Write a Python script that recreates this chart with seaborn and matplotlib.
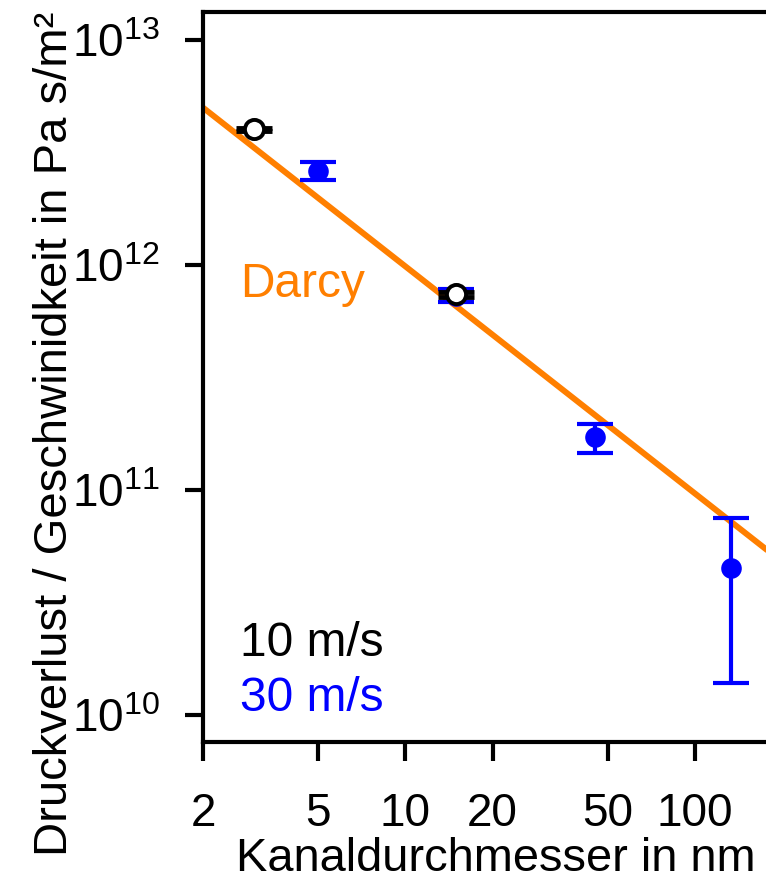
import matplotlib
matplotlib.use("Agg")
import matplotlib.pyplot as plt
import seaborn as sns
import numpy as np
import pandas as pd
from matplotlib.ticker import FixedLocator, FixedFormatter, LogFormatterMathtext, NullLocator

# ---- data ----
d10 = [3.0, 15.0]
v10 = [4.0e12, 7.43e11]
lo10 = [3.93e12, 7.2e11]
hi10 = [4.07e12, 7.6e11]

d30 = [5.0, 15.0, 45.0, 133.0]
v30 = [2.62e12, 7.3e11, 1.72e11, 4.5e10]
lo30 = [2.39e12, 6.85e11, 1.46e11, 1.39e10]
hi30 = [2.87e12, 7.82e11, 1.97e11, 7.5e10]

darcy_d = [2.0, 200.0]
darcy_v = [5.0e12, 4.8e10]

xticks = [2, 5, 10, 20, 50, 100]
xticklabels = ["2", "5", "10", "20", "50", "100"]
yticks = [1e10, 1e11, 1e12, 1e13]

sns.set_theme(style="ticks")
plt.rcParams["font.family"] = ["Liberation Sans", "DejaVu Sans"]
plt.rcParams["mathtext.fontset"] = "custom"
plt.rcParams["mathtext.rm"] = "Liberation Sans"
plt.rcParams["mathtext.it"] = "Liberation Sans"
plt.rcParams["mathtext.bf"] = "Liberation Sans"

W, H = 766, 874
fig = plt.figure(figsize=(W/100, H/100), dpi=100)
ax = fig.add_axes([203/W, 1-742/H, 1-203/W, (742-12)/H])

ax.set_xscale("log")
ax.set_yscale("log")

df_line = pd.DataFrame({"d": darcy_d, "v": darcy_v})
sns.lineplot(data=df_line, x="d", y="v", ax=ax, color="#FF7F00", lw=4.3, zorder=1)

blue = "#0000FF"
# 30 m/s
y30 = np.array(v30)
ax.errorbar(d30, v30, yerr=[y30-np.array(lo30), np.array(hi30)-y30], fmt="none",
            ecolor=blue, elinewidth=3, capsize=13, capthick=3, zorder=2)
sns.scatterplot(x=d30, y=v30, ax=ax, color=blue, s=220, edgecolor=blue, linewidth=0, zorder=3)

# 10 m/s
y10 = np.array(v10)
ax.errorbar(d10, v10, yerr=[y10-np.array(lo10), np.array(hi10)-y10], fmt="none",
            ecolor="black", elinewidth=3, capsize=13, capthick=3.5, zorder=4)
sns.scatterplot(x=d10, y=v10, ax=ax, color="white", s=190, edgecolor="black", linewidth=2.8, zorder=5)

ax.set_xlim(2, 176)
ax.set_ylim(7.6e9, 1.33e13)

ax.xaxis.set_major_locator(FixedLocator(xticks))
ax.xaxis.set_major_formatter(FixedFormatter(xticklabels))
ax.xaxis.set_minor_locator(NullLocator())
ax.yaxis.set_major_locator(FixedLocator(yticks))
ax.yaxis.set_major_formatter(LogFormatterMathtext())
ax.yaxis.set_minor_locator(NullLocator())

for s in ["top", "left", "bottom"]:
    ax.spines[s].set_linewidth(3)
    ax.spines[s].set_color("black")
ax.spines["right"].set_visible(False)

ax.tick_params(axis="both", which="major", direction="out", width=3,
               color="black", labelsize=33, labelcolor="black")
ax.tick_params(axis="x", pad=22, length=14)
ax.tick_params(axis="y", pad=18, length=13)

ax.set_xlabel("Kanaldurchmesser in nm", fontsize=33.8, labelpad=1, color="black")
ax.xaxis.label.set_x((496-203)/(W-203))
ax.set_ylabel("Druckverlust / Geschwinidkeit in Pa s/m²", fontsize=34, color="black")
ax.yaxis.set_label_coords(77/W, 1-433.5/H, transform=fig.transFigure)

fig.text(240/W, 1-297/H, "Darcy", color="#FF7F00", fontsize=34.5, va="baseline")
fig.text(240/W, 1-656/H, "10 m/s", color="black", fontsize=34.5, va="baseline")
fig.text(240/W, 1-711/H, "30 m/s", color=blue, fontsize=34.5, va="baseline")

fig.savefig("out.png", dpi=100)
